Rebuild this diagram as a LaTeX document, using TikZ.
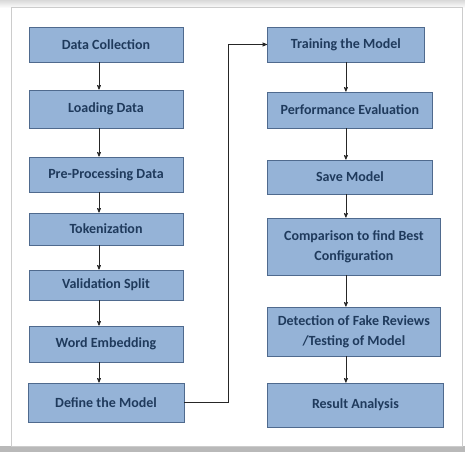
\documentclass[tikz,border=0pt]{standalone}
\usepackage{fontspec}
\setmainfont{Carlito}
\usepackage{tikz}
\usetikzlibrary{arrows,calc}
\definecolor{boxfill}{HTML}{95B3D7}
\definecolor{boxline}{HTML}{4F6A8E}
\definecolor{boxtext}{HTML}{1F3A5C}

\begin{document}
\begin{tikzpicture}[x=1pt,y=-1pt,>=stealth',semithick]
  \tikzstyle{process}=[rectangle,draw=boxline,fill=boxfill,text=boxtext,
                       font=\fontsize{14}{20}\selectfont\bfseries,
                       align=center,inner sep=2pt,line width=0.8pt]
  \tikzstyle{flow}=[->,draw=black!85,line width=0.7pt]

  % page and frame
  \useasboundingbox (0,0) rectangle (465,452);
  \fill[white] (0,0) rectangle (465,452);
  \shade[top color=gray!30,bottom color=white,draw=none] (0,0) rectangle (465,8);
  \fill[gray!55] (0,446) rectangle (465,452);
  \draw[gray!40,line width=0.8pt] (11,7) rectangle (462,446);

  % left column
  \node[process,minimum width=154pt,minimum height=35pt] (DC) at (106,44.5) {Data Collection};
  \node[process,minimum width=154pt,minimum height=38pt] (LD) at (106,109) {Loading Data};
  \node[process,minimum width=154pt,minimum height=35pt] (PP) at (106,174.5) {Pre-Processing Data};
  \node[process,minimum width=154pt,minimum height=32pt] (TK) at (106,229) {Tokenization};
  \node[process,minimum width=154pt,minimum height=30pt] (VS) at (106,285) {Validation Split};
  \node[process,minimum width=154pt,minimum height=36pt] (WE) at (106,344) {Word Embedding};
  \node[process,minimum width=156pt,minimum height=39pt] (DM) at (106,402.5) {Define the Model};

  % right column
  \node[process,anchor=west,minimum width=157pt,minimum height=35pt] (TM) at (267,44.5) {Training the Model};
  \node[process,anchor=west,minimum width=165pt,minimum height=36pt] (PE) at (267,110) {Performance Evaluation};
  \node[process,anchor=west,minimum width=165pt,minimum height=34pt] (SM) at (267,177) {Save Model};
  \node[process,anchor=west,minimum width=173pt,minimum height=57pt] (CB) at (267,246.5) {Comparison to find Best\\Configuration};
  \node[process,anchor=west,minimum width=173pt,minimum height=49pt] (DF) at (267,331.5) {Detection of Fake Reviews\\/Testing of Model};
  \node[process,anchor=west,minimum width=176pt,minimum height=44pt] (RA) at (267,405) {Result Analysis};

  \foreach \a/\b in {DC/LD,LD/PP,PP/TK,TK/VS,VS/WE,WE/DM}
    \draw[flow] ([xshift=-7pt]\a.south) -- ([xshift=-7pt]\b.north);
  \foreach \a/\b in {TM/PE,PE/SM,SM/CB,CB/DF,DF/RA}
    \draw[flow] (TM.south |- \a.south) -- (TM.south |- \b.north);

  \draw[flow] (DM.east) -- ++(44,0) |- (TM.west);
\end{tikzpicture}
\end{document}
